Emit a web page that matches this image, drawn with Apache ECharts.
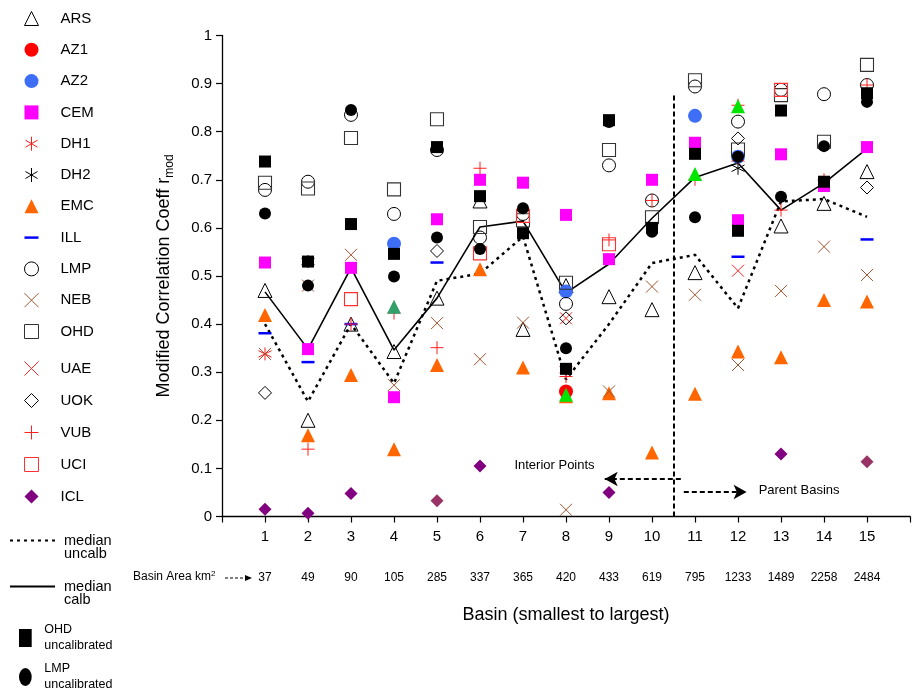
<!DOCTYPE html>
<html>
<head>
<meta charset="utf-8">
<script src="https://cdn.jsdelivr.net/npm/echarts@6/dist/echarts.min.js"></script>
<style>
html,body{margin:0;padding:0;background:#fff;}
#chart{width:913px;height:693px;}
</style>
</head>
<body>
<div id="chart"></div>
<script>
// ---- data ----
const basinNumbers = [1, 2, 3, 4, 5, 6, 7, 8, 9, 10, 11, 12, 13, 14, 15];
const basinAreas = ['37', '49', '90', '105', '285', '337', '365', '420', '433', '619', '795', '1233', '1489', '2258', '2484'];
const yTickLabels = ['0', '0.1', '0.2', '0.3', '0.4', '0.5', '0.6', '0.7', '0.8', '0.9', '1'];

// correlation coefficient per basin (null = no result)
const ARS = [0.470, 0.200, 0.400, 0.343, 0.454, 0.656, 0.389, 0.480, 0.457, 0.430, 0.507, null, 0.604, 0.651, 0.717];
const AZ1 = [null, null, null, null, null, null, null, 0.260, null, null, null, null, null, null, null];
const AZ2 = [null, null, null, 0.567, null, null, null, 0.468, null, null, 0.833, 0.748, null, null, null];
const CEM = [0.528, 0.348, 0.517, 0.248, 0.618, 0.700, 0.694, 0.627, 0.535, 0.700, 0.777, 0.616, 0.753, 0.687, 0.768];
const DH1 = [0.338, null, null, null, null, null, null, 0.305, null, null, null, 0.745, null, null, null];
const DH2 = [null, 0.530, null, null, null, null, null, null, null, null, null, 0.724, null, null, null];
const EMC = [0.419, 0.169, 0.294, 0.140, 0.315, 0.514, 0.310, 0.250, 0.256, 0.133, 0.255, 0.343, 0.331, 0.450, 0.447];
const ILL = [0.381, 0.321, 0.400, null, 0.528, null, null, null, null, null, null, 0.540, null, null, 0.576];
const LMP = [0.679, 0.696, 0.835, 0.629, 0.762, 0.580, 0.629, 0.442, 0.730, 0.657, 0.894, 0.821, 0.887, 0.878, 0.897];
const NEB = [0.338, 0.480, 0.544, 0.273, 0.402, 0.327, 0.403, 0.014, 0.260, 0.478, 0.461, 0.315, 0.469, 0.561, 0.502];
const OHD = [0.694, 0.682, 0.787, 0.680, 0.826, 0.602, 0.616, 0.486, 0.762, 0.622, 0.907, 0.763, 0.876, 0.779, 0.939];
const UAE = [null, null, null, null, null, null, null, 0.412, null, null, null, 0.511, null, null, null];
const UOK = [0.257, null, null, null, 0.552, null, null, 0.412, null, null, null, 0.786, null, null, 0.684];
const VUB = [null, 0.140, 0.400, 0.423, 0.351, 0.724, null, 0.291, 0.575, 0.657, 0.701, 0.855, 0.637, 0.700, 0.897];
const UCI = [null, null, 0.452, null, null, 0.547, 0.625, null, 0.566, null, null, null, 0.887, null, null];
const ICL = [0.015, 0.007, 0.048, null, 0.033, 0.105, null, null, 0.050, null, null, null, 0.130, null, 0.114];
const GRN = [null, null, null, 0.436, null, null, null, 0.253, null, null, 0.712, 0.853, null, null, null];
const OHD_uncal = [0.738, 0.530, 0.608, 0.546, 0.768, 0.666, 0.589, 0.307, 0.824, 0.600, 0.754, 0.594, 0.844, 0.696, 0.880];
const LMP_uncal = [0.630, 0.480, 0.845, 0.499, 0.580, 0.556, 0.641, 0.350, 0.820, 0.592, 0.622, 0.748, 0.665, 0.770, 0.862];
const medianUncalb = [0.400, 0.239, 0.400, 0.277, 0.490, 0.505, 0.582, 0.285, 0.400, 0.527, 0.544, 0.433, 0.655, 0.660, 0.623];
const medianCalb = [0.467, 0.348, 0.517, 0.346, 0.454, 0.602, 0.614, 0.465, 0.525, 0.620, 0.705, 0.735, 0.637, 0.693, 0.765];

// ---- styling ----
const FONT = '"Liberation Sans", Arial, Helvetica, sans-serif';
const OPEN = 'rgba(0,0,0,0)';
const X_PATH = 'path://M0,0L10,10M10,0L0,10';
const PLUS_PATH = 'path://M5,0L5,10M0,5L10,5';
const STAR_PATH = 'path://M5,0L5,10M0.67,2.5L9.33,7.5M0.67,7.5L9.33,2.5';
const DASH_ICON = 'path://M0,0H14V2.5H0Z';
const SQUARE_ICON = 'path://M0,0H12V17H0Z';
const ELLIPSE_ICON = 'path://M6,0A6,8.5,0,1,1,6,17A6,8.5,0,1,1,6,0Z';
const ICL_LIGHT = [5, 15];

function pts(vals) {
  const out = [];
  vals.forEach((v, i) => { if (v != null) out.push([basinNumbers[i], v]); });
  return out;
}

const scatterDefs = [
  ['ARS', ARS, 'triangle', 14, { color: OPEN, borderColor: '#000', borderWidth: 1 }],
  ['AZ1', AZ1, 'circle', 14, { color: '#ff0000' }],
  ['AZ2', AZ2, 'circle', 14, { color: '#3d6ef5' }],
  ['CEM', CEM, 'rect', 12, { color: '#ff00ff' }],
  ['DH1', DH1, STAR_PATH, 13, { color: OPEN, borderColor: '#ff1a1a', borderWidth: 1 }],
  ['DH2', DH2, STAR_PATH, 13, { color: OPEN, borderColor: '#000', borderWidth: 1 }],
  ['EMC', EMC, 'triangle', 14, { color: '#ff6600' }],
  ['ILL', ILL, 'rect', [13, 2.5], { color: '#0000ff' }],
  ['LMP', LMP, 'circle', 13, { color: OPEN, borderColor: '#000', borderWidth: 1 }],
  ['NEB', NEB, X_PATH, 12, { color: OPEN, borderColor: '#a0522d', borderWidth: 1 }],
  ['OHD', OHD, 'rect', 13, { color: OPEN, borderColor: '#333', borderWidth: 1.1 }],
  ['UAE', UAE, X_PATH, 12, { color: OPEN, borderColor: '#ff2020', borderWidth: 1 }],
  ['UOK', UOK, 'diamond', 13, { color: OPEN, borderColor: '#000', borderWidth: 1 }],
  ['VUB', VUB, PLUS_PATH, 13, { color: OPEN, borderColor: '#ff2020', borderWidth: 1 }],
  ['UCI', UCI, 'rect', 13, { color: OPEN, borderColor: '#ff3030', borderWidth: 1.1 }],
  ['ICL', ICL, 'diamond', 13, { color: p => ICL_LIGHT.includes(p.value[0]) ? '#993366' : '#800080' }],
  ['GRN', GRN, 'triangle', 14, { color: p => p.value[0] === 4 ? '#33a06a' : '#00e600' }],
  ['OHD uncalibrated', OHD_uncal, 'rect', 12, { color: '#000' }],
  ['LMP uncalibrated', LMP_uncal, 'circle', 12, { color: '#000' }]
];

const series = [
  {
    name: 'median uncalb', type: 'line', data: pts(medianUncalb), symbol: 'none', z: 1,
    lineStyle: { color: '#000', width: 2.5, type: [3, 4] }, itemStyle: { color: '#000' },
    silent: true
  },
  {
    name: 'median calb', type: 'line', data: pts(medianCalb), symbol: 'none', z: 1,
    lineStyle: { color: '#000', width: 1.6, type: 'solid' }, itemStyle: { color: '#000' },
    silent: true
  }
].concat(scatterDefs.map(([name, vals, symbol, size, itemStyle]) => ({
  name, type: 'scatter', data: pts(vals), symbol, symbolSize: size,
  itemStyle: Object.assign({ opacity: 1 }, itemStyle), z: 3, silent: true
})));

// divider between interior points and parent basins, with arrows
series.push({
  name: 'annotations', type: 'scatter', data: [], silent: true, z: 2,
  markLine: {
    silent: true, animation: false,
    label: { show: false },
    data: [
      [{ coord: [10.5, 0], symbol: 'none' }, { coord: [10.5, 0.876], symbol: 'none' }],
      [{ coord: [10.67, 0.078], symbol: 'none' }, { coord: [8.9, 0.078], symbol: 'arrow', symbolSize: [11, 13] }],
      [{ coord: [10.74, 0.051], symbol: 'none' }, { coord: [12.2, 0.051], symbol: 'arrow', symbolSize: [11, 13] }]
    ],
    lineStyle: { color: '#000', width: 2, type: [5, 3] }
  }
});

const legendA = ['ARS', 'AZ1', 'AZ2', 'CEM', 'DH1', 'DH2', 'EMC',
  { name: 'ILL', icon: DASH_ICON }, 'LMP', 'NEB', 'OHD'];
const legendB = ['UAE', 'UOK', 'VUB', 'UCI', { name: 'ICL', itemStyle: { color: '#800080' } }];

const baseLegend = {
  orient: 'vertical', padding: 0, selectedMode: false,
  itemWidth: 14, itemHeight: 14,
  itemStyle: { borderWidth: 1, opacity: 1 },
  textStyle: { fontFamily: FONT, fontSize: 15, color: '#000', padding: [0, 0, 0, 17] }
};

const medianLegend = (name, label, top) => ({
  data: [name], orient: 'vertical', padding: 0, selectedMode: false,
  left: 9, top, itemWidth: 45, itemHeight: 14,
  itemStyle: { opacity: 0 },
  formatter: () => label,
  textStyle: { fontFamily: FONT, fontSize: 14.5, lineHeight: 13, color: '#000', padding: [0, 0, 0, 4] }
});

const uncalLegend = (name, icon, top) => ({
  data: [{ name, icon }], orient: 'vertical', padding: 0, selectedMode: false,
  left: 19, top, itemWidth: 14, itemHeight: 18,
  itemStyle: { opacity: 1 },
  formatter: n => n.replace(' ', '\n'),
  textStyle: { fontFamily: FONT, fontSize: 12.5, lineHeight: 16, color: '#000', padding: [0, 0, 0, 7] }
});

const option = {
  animation: false,
  textStyle: { fontFamily: FONT, color: '#000' },
  grid: { left: 222, right: 1, top: 35.5, bottom: 176.5 },
  legend: [
    Object.assign({}, baseLegend, { data: legendA, left: 24, top: 11, itemGap: 16.3 }),
    Object.assign({}, baseLegend, { data: legendB, left: 24, top: 361, itemGap: 17 }),
    medianLegend('median uncalb', '\nmedian\nuncalb', 520),
    medianLegend('median calb', '\nmedian\ncalb', 566),
    uncalLegend('OHD uncalibrated', SQUARE_ICON, 622),
    uncalLegend('LMP uncalibrated', ELLIPSE_ICON, 661)
  ],
  xAxis: [
    {
      type: 'value', min: 0, max: 16, interval: 1,
      axisLine: { lineStyle: { color: '#000', width: 1.3 } },
      axisTick: { inside: false, length: 6, lineStyle: { color: '#000', width: 1.2 } },
      axisLabel: {
        fontSize: 15, color: '#000', margin: 13,
        formatter: v => (v >= 1 && v <= basinNumbers.length) ? String(basinNumbers[v - 1]) : ''
      },
      splitLine: { show: false },
      name: 'Basin (smallest to largest)', nameLocation: 'middle', nameGap: 90,
      nameTextStyle: { fontSize: 18, color: '#000' }
    },
    {
      type: 'value', min: 0, max: 16, interval: 1, position: 'bottom', offset: 47,
      axisLine: { show: false }, axisTick: { show: false }, splitLine: { show: false },
      axisLabel: {
        fontSize: 12, color: '#000', margin: 8,
        formatter: v => (v >= 1 && v <= basinAreas.length) ? basinAreas[v - 1] : ''
      }
    }
  ],
  yAxis: {
    type: 'value', min: 0, max: 1, interval: 0.1,
    axisLine: { show: true, lineStyle: { color: '#000', width: 1.3 } },
    axisTick: { show: true, inside: false, length: 6, lineStyle: { color: '#000', width: 1.2 } },
    axisLabel: {
      fontSize: 15, color: '#000', margin: 10,
      formatter: v => yTickLabels[Math.round(v * 10)]
    },
    splitLine: { show: false },
    name: '{a|Modified Correlation Coeff r}{b|mod}',
    nameLocation: 'middle', nameGap: 46,
    nameTextStyle: {
      rich: {
        a: { fontSize: 18, fontFamily: FONT, color: '#000', lineHeight: 24 },
        b: { fontSize: 12, fontFamily: FONT, color: '#000', lineHeight: 12, verticalAlign: 'bottom' }
      }
    }
  },
  series
};

const chart = echarts.init(document.getElementById('chart'));
chart.setOption(option);

// text annotations placed in data coordinates
const toPx = (x, y) => chart.convertToPixel({ gridIndex: 0 }, [x, y]);
const interiorPos = toPx(6.8, 0.107);
const parentPos = toPx(12.48, 0.055);
chart.setOption({
  graphic: [
    {
      type: 'text', x: interiorPos[0], y: interiorPos[1], silent: true,
      style: { text: 'Interior Points', fontFamily: FONT, fontSize: 13, fill: '#000', verticalAlign: 'middle' }
    },
    {
      type: 'text', x: parentPos[0], y: parentPos[1], silent: true,
      style: { text: 'Parent Basins', fontFamily: FONT, fontSize: 13, fill: '#000', verticalAlign: 'middle' }
    },
    {
      type: 'text', x: 133, y: 577, silent: true,
      style: {
        text: '{a|Basin Area km}{s|2}', verticalAlign: 'middle',
        rich: {
          a: { fontFamily: FONT, fontSize: 12, fill: '#000', lineHeight: 14 },
          s: { fontFamily: FONT, fontSize: 8, fill: '#000', lineHeight: 14, verticalAlign: 'top' }
        }
      }
    },
    {
      type: 'line', silent: true,
      shape: { x1: 225, y1: 578, x2: 248, y2: 578 },
      style: { stroke: '#000', lineWidth: 1.2, lineDash: [3, 2] }
    },
    {
      type: 'polygon', silent: true,
      shape: { points: [[252, 578], [245, 575], [245, 581]] },
      style: { fill: '#000' }
    }
  ]
});
</script>
</body>
</html>
